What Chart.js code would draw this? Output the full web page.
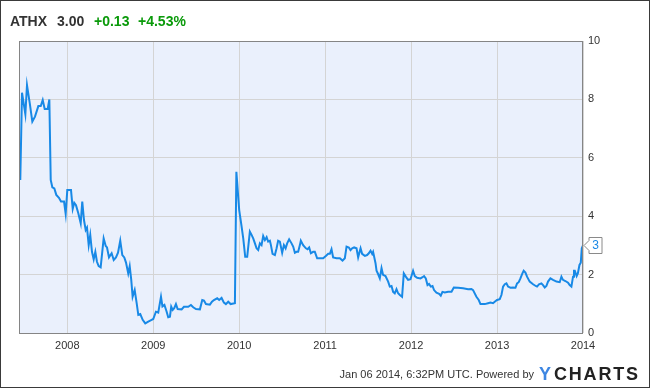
<!DOCTYPE html>
<html>
<head>
<meta charset="utf-8">
<script src="https://cdn.jsdelivr.net/npm/chart.js@4/dist/chart.umd.min.js"></script>
<style>
  html, body { margin: 0; padding: 0; background: #fff; }
  canvas { display: block; }
</style>
</head>
<body>
<canvas id="grafica" width="650" height="388"></canvas>
<script>
// ATHX weekly-ish closes, x in decimal years
var dates = [
  2007.453, 2007.473, 2007.512, 2007.531, 2007.563, 2007.593, 2007.624, 2007.663, 2007.691, 2007.714,
  2007.737, 2007.772, 2007.791, 2007.807, 2007.826, 2007.849, 2007.872, 2007.903, 2007.927, 2007.962,
  2007.981, 2008.000, 2008.043, 2008.063, 2008.081, 2008.101, 2008.128, 2008.156, 2008.174, 2008.194,
  2008.214, 2008.229, 2008.249, 2008.267, 2008.287, 2008.307, 2008.326, 2008.345, 2008.365, 2008.388,
  2008.423, 2008.447, 2008.462, 2008.485, 2008.516, 2008.540, 2008.566, 2008.590, 2008.616, 2008.640,
  2008.663, 2008.683, 2008.709, 2008.726, 2008.744, 2008.760, 2008.784, 2008.807, 2008.826, 2008.849,
  2008.877, 2008.907, 2008.942, 2008.981, 2009.000, 2009.031, 2009.058, 2009.090, 2009.107, 2009.130,
  2009.156, 2009.174, 2009.194, 2009.209, 2009.226, 2009.244, 2009.264, 2009.284, 2009.330, 2009.357,
  2009.407, 2009.438, 2009.465, 2009.497, 2009.543, 2009.570, 2009.590, 2009.613, 2009.659, 2009.683,
  2009.706, 2009.744, 2009.767, 2009.795, 2009.822, 2009.845, 2009.872, 2009.900, 2009.950, 2009.967,
  2010.000, 2010.028, 2010.047, 2010.070, 2010.093, 2010.124, 2010.144, 2010.163, 2010.183, 2010.202,
  2010.221, 2010.241, 2010.260, 2010.279, 2010.299, 2010.319, 2010.337, 2010.357, 2010.369, 2010.388,
  2010.415, 2010.435, 2010.453, 2010.473, 2010.500, 2010.520, 2010.540, 2010.558, 2010.581, 2010.609,
  2010.628, 2010.648, 2010.667, 2010.686, 2010.706, 2010.717, 2010.744, 2010.776, 2010.795, 2010.814,
  2010.834, 2010.860, 2010.880, 2010.907, 2010.938, 2010.977, 2011.008, 2011.035, 2011.055, 2011.074,
  2011.093, 2011.133, 2011.171, 2011.202, 2011.229, 2011.249, 2011.276, 2011.295, 2011.314, 2011.337,
  2011.365, 2011.384, 2011.412, 2011.430, 2011.462, 2011.488, 2011.508, 2011.528, 2011.547, 2011.558,
  2011.586, 2011.598, 2011.616, 2011.636, 2011.656, 2011.674, 2011.702, 2011.733, 2011.752, 2011.772,
  2011.791, 2011.810, 2011.830, 2011.849, 2011.869, 2011.895, 2011.915, 2011.938, 2011.965, 2011.993,
  2012.023, 2012.043, 2012.070, 2012.109, 2012.133, 2012.151, 2012.171, 2012.191, 2012.209, 2012.229,
  2012.249, 2012.267, 2012.295, 2012.326, 2012.345, 2012.365, 2012.392, 2012.430, 2012.470, 2012.497,
  2012.547, 2012.605, 2012.663, 2012.702, 2012.721, 2012.760, 2012.787, 2012.807, 2012.857, 2012.895,
  2012.923, 2012.953, 2012.973, 2013.000, 2013.031, 2013.051, 2013.070, 2013.090, 2013.109, 2013.128,
  2013.156, 2013.186, 2013.214, 2013.233, 2013.252, 2013.272, 2013.295, 2013.310, 2013.330, 2013.349,
  2013.380, 2013.419, 2013.450, 2013.465, 2013.488, 2013.516, 2013.535, 2013.555, 2013.574, 2013.593,
  2013.621, 2013.651, 2013.691, 2013.729, 2013.749, 2013.767, 2013.795, 2013.826, 2013.845, 2013.865,
  2013.884, 2013.895, 2013.905, 2013.926, 2013.940, 2013.959, 2013.974, 2013.986, 2014.000
];
var precios = [
  5.24, 8.23, 7.49, 8.49, 7.87, 7.24, 7.41, 7.77, 7.77, 7.98,
  7.67, 7.67, 8.00, 5.24, 4.99, 4.95, 4.73, 4.63, 4.50, 4.50,
  4.08, 4.90, 4.90, 4.25, 4.46, 4.38, 4.10, 3.76, 4.50, 3.87,
  3.53, 3.61, 3.01, 3.36, 2.78, 2.52, 2.78, 2.44, 2.29, 2.25,
  3.24, 2.98, 2.93, 2.59, 2.73, 2.50, 2.59, 2.75, 3.16, 2.67,
  2.59, 2.41, 2.04, 2.29, 1.82, 1.24, 1.47, 1.02, 0.62, 0.65,
  0.45, 0.33, 0.39, 0.45, 0.48, 0.73, 0.70, 1.24, 0.91, 0.96,
  0.73, 0.54, 0.56, 0.90, 0.79, 0.85, 0.99, 0.82, 0.81, 0.90,
  0.90, 0.96, 0.88, 0.82, 0.81, 1.13, 1.11, 0.99, 0.97, 1.07,
  1.13, 1.19, 1.13, 1.20, 1.04, 0.99, 1.07, 0.99, 1.02, 5.52,
  4.21, 3.64, 3.24, 2.61, 2.61, 3.47, 3.36, 3.24, 3.07, 2.90,
  2.84, 3.07, 3.01, 3.32, 3.18, 3.28, 3.13, 3.16, 3.01, 2.71,
  2.67, 2.90, 3.16, 3.13, 2.75, 3.01, 2.90, 3.07, 3.21, 3.07,
  2.96, 2.75, 2.78, 2.78, 3.01, 3.16, 3.01, 2.90, 2.87, 2.93,
  2.73, 2.78, 2.78, 2.56, 2.56, 2.56, 2.64, 2.71, 2.71, 2.87,
  2.59, 2.56, 2.56, 2.48, 2.56, 2.96, 2.93, 2.84, 2.90, 2.93,
  2.90, 2.59, 2.90, 2.71, 2.64, 2.67, 2.73, 2.82, 2.71, 2.78,
  2.39, 2.13, 2.02, 1.87, 2.22, 1.99, 1.95, 1.76, 1.59, 1.61,
  1.41, 1.36, 1.50, 1.36, 1.30, 1.24, 2.04, 1.93, 1.82, 1.84,
  2.13, 1.95, 1.89, 1.87, 1.91, 1.95, 1.87, 1.64, 1.68, 1.59,
  1.61, 1.47, 1.38, 1.34, 1.28, 1.41, 1.39, 1.41, 1.41, 1.56,
  1.55, 1.53, 1.50, 1.51, 1.47, 1.24, 1.13, 0.99, 0.99, 1.02,
  1.04, 1.02, 1.07, 1.13, 1.16, 1.30, 1.59, 1.67, 1.70, 1.59,
  1.55, 1.56, 1.55, 1.70, 1.74, 1.87, 2.04, 2.13, 2.07, 1.93,
  1.76, 1.67, 1.61, 1.59, 1.67, 1.70, 1.64, 1.56, 1.61, 1.76,
  1.87, 1.82, 1.76, 1.74, 1.93, 1.82, 1.78, 1.72, 1.64, 1.59,
  1.93, 2.13, 2.13, 1.95, 2.04, 2.33, 2.41, 2.90, 3.00
];
var anios = [2008, 2009, 2010, 2011, 2012, 2013, 2014];
var yTicks = [0, 2, 4, 6, 8, 10];
var inicio = 2007.438, fin = 2014.0;

var puntos = dates.map(function(d, i) { return {x: d, y: precios[i]}; });

var fondo = {
  id: 'fondo',
  beforeDraw: function(chart) {
    var c = chart.ctx, a = chart.chartArea;
    c.save();
    c.fillStyle = '#fff';
    c.fillRect(0, 0, chart.width, chart.height);
    c.fillStyle = '#eaf0fc';
    c.fillRect(a.left, a.top, a.right - a.left, a.bottom - a.top);
    c.restore();
  },
  afterDraw: function(chart) {
    var c = chart.ctx, a = chart.chartArea;
    c.save();
    // plot frame
    c.strokeStyle = '#858585';
    c.lineWidth = 1;
    c.strokeRect(a.left + 0.5, a.top + 0.5, a.right - a.left - 1, a.bottom - a.top);
    // outer frame
    c.strokeStyle = '#3a3a3a';
    c.strokeRect(0.5, 0.5, chart.width - 1, chart.height - 1);

    // header
    c.textBaseline = 'alphabetic';
    c.font = 'bold 14px "Liberation Sans", Arial, sans-serif';
    c.fillStyle = '#333';
    c.fillText('ATHX', 10, 26);
    c.fillText('3.00', 57, 26);
    c.fillStyle = '#0a9a0a';
    c.fillText('+0.13', 94, 26);
    c.fillText('+4.53%', 138, 26);

    // footer
    c.font = '11px "Liberation Sans", Arial, sans-serif';
    c.fillStyle = '#333';
    c.textAlign = 'right';
    c.fillText('Jan 06 2014, 6:32PM UTC. Powered by', 534, 378);
    c.textAlign = 'left';
    c.font = 'bold 18px "Liberation Sans", Arial, sans-serif';
    c.fillStyle = '#3d86e2';
    c.fillText('Y', 539, 380);
    c.fillStyle = '#222';
    var x = 554, letras = 'CHARTS';
    for (var i = 0; i < letras.length; i++) {
      c.fillText(letras[i], x, 380);
      x += c.measureText(letras[i]).width + 1.8;
    }

    // last price tag
    var ys = chart.scales.y, xs = chart.scales.x;
    var last = precios[precios.length - 1];
    var py = Math.round(ys.getPixelForValue(last)) + 0.5;
    var px = xs.getPixelForValue(fin) + 1;
    c.fillStyle = '#fff';
    c.strokeStyle = '#8a8a8a';
    c.beginPath();
    c.moveTo(px, py);
    c.lineTo(px + 5, py - 5);
    c.lineTo(px + 5, py - 8);
    c.lineTo(px + 18, py - 8);
    c.lineTo(px + 18, py + 8);
    c.lineTo(px + 5, py + 8);
    c.lineTo(px + 5, py + 5);
    c.closePath();
    c.fill();
    c.stroke();
    c.fillStyle = '#1a89e6';
    c.font = '12px "Liberation Sans", Arial, sans-serif';
    c.textAlign = 'center';
    c.textBaseline = 'middle';
    c.fillText(String(last.toFixed(0)), px + 11.5, py + 0.5);
    c.restore();
  }
};

new Chart(document.getElementById('grafica'), {
  type: 'line',
  data: {
    datasets: [{
      data: puntos,
      borderColor: '#1889e6',
      borderWidth: 2,
      pointRadius: 0,
      fill: false,
      tension: 0
    }]
  },
  options: {
    responsive: false,
    animation: false,
    layout: { padding: { left: 19, top: 41, right: 0, bottom: 0 } },
    plugins: { legend: { display: false }, tooltip: { enabled: false } },
    scales: {
      x: {
        type: 'linear',
        min: inicio,
        max: fin,
        afterBuildTicks: function(s) { s.ticks = anios.map(function(v) { return {value: v}; }); },
        afterFit: function(s) { s.height = 55; },
        grid: { color: '#d4d4d4', drawTicks: false },
        border: { display: false },
        ticks: {
          padding: 6,
          color: '#333',
          font: { family: '"Liberation Sans", Arial, sans-serif', size: 11 },
          callback: function(v) { return String(v); },
          maxRotation: 0
        }
      },
      y: {
        position: 'right',
        min: 0,
        max: 10,
        afterBuildTicks: function(s) { s.ticks = yTicks.map(function(v) { return {value: v}; }); },
        afterFit: function(s) { s.width = 67; },
        grid: { color: '#d4d4d4', drawTicks: false },
        border: { display: false },
        ticks: {
          padding: 5,
          color: '#333',
          font: { family: '"Liberation Sans", Arial, sans-serif', size: 11 }
        }
      }
    }
  },
  plugins: [fondo]
});
</script>
</body>
</html>
